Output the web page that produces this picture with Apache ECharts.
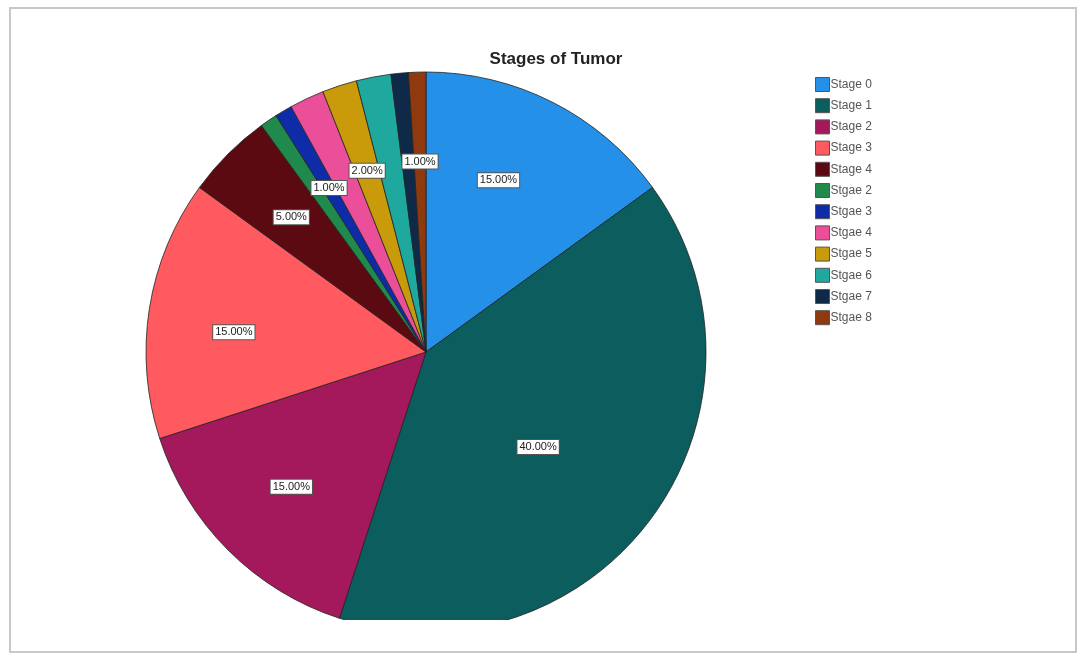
<!DOCTYPE html>
<html>
<head>
<meta charset="utf-8">
<script src="https://cdn.jsdelivr.net/npm/echarts@6/dist/echarts.min.js"></script>
<style>
html,body{margin:0;padding:0;background:#fff;}
#chart{width:1079px;height:657px;}
</style>
</head>
<body>
<div id="chart"></div>
<script>
const categories = ['Stage 0','Stage 1','Stage 2','Stage 3','Stage 4','Stgae 2','Stgae 3','Stgae 4','Stgae 5','Stgae 6','Stgae 7','Stgae 8'];
const values = [15, 40, 15, 15, 5, 1, 1, 2, 2, 2, 1, 1];
const colors = ['#2590E8','#0B5D5E','#A3195B','#FF5A5F','#5C0A12','#1F8A4C','#0F2CA8','#EC4F9A','#C99A0A','#1FA89E','#0E2A48','#8E3A0E'];
const labelShown = [true, true, true, true, true, false, true, false, true, false, false, true];
const labelOffsets = {0: [-14, -2], 1: [-42, -17], 3: [-4, 10]};

const total = values.reduce((a, b) => a + b, 0);

const chart = echarts.init(document.getElementById('chart'));
const option = {
  animation: false,
  color: colors,
  title: {
    text: 'Stages of Tumor',
    left: 551,
    textAlign: 'center',
    top: 46,
    textStyle: {fontFamily: 'Liberation Sans, Arial', fontSize: 17, fontWeight: 'bold', color: '#222'}
  },
  legend: {
    orient: 'vertical',
    left: 810,
    top: 72,
    itemWidth: 14,
    itemHeight: 14,
    itemGap: 6.2,
    icon: 'rect',
    data: categories,
    itemStyle: {borderColor: '#555', borderWidth: 1},
    textStyle: {fontFamily: 'Liberation Sans, Arial', fontSize: 12, color: '#555', padding: [0, 0, 0, -4]}
  },
  graphic: [
    {type: 'rect', z: 100, shape: {x: 10, y: 8, width: 1066, height: 644}, style: {fill: 'none', stroke: '#c8c8c8', lineWidth: 2}},
    {type: 'rect', z: 99, shape: {x: 130, y: 620, width: 600, height: 30}, style: {fill: '#fff'}}
  ],
  series: [
    {
      type: 'pie',
      center: [426, 352],
      radius: [0, 280],
      startAngle: 90,
      clockwise: true,
      silent: true,
      label: {show: false},
      labelLine: {show: false},
      itemStyle: {borderColor: '#222', borderWidth: 0.8},
      data: categories.map((c, i) => ({name: c, value: values[i], itemStyle: {color: colors[i]}}))
    },
    {
      type: 'pie',
      center: [426, 352],
      radius: [95, 280],
      startAngle: 90,
      clockwise: true,
      silent: true,
      z: 3,
      itemStyle: {color: 'rgba(0,0,0,0)', borderWidth: 0},
      labelLine: {show: false},
      data: categories.map((c, i) => ({
        name: c,
        value: values[i],
        label: {
          show: labelShown[i],
          position: 'inside',
          offset: labelOffsets[i] || [0, 0],
          formatter: () => (values[i] / total * 100).toFixed(2) + '%',
          fontFamily: 'Liberation Sans, Arial',
          fontSize: 11,
          color: '#222',
          backgroundColor: '#fff',
          borderColor: '#555',
          borderWidth: 1,
          padding: [2, 2, 1, 2]
        }
      }))
    }
  ]
};
chart.setOption(option);
</script>
</body>
</html>
